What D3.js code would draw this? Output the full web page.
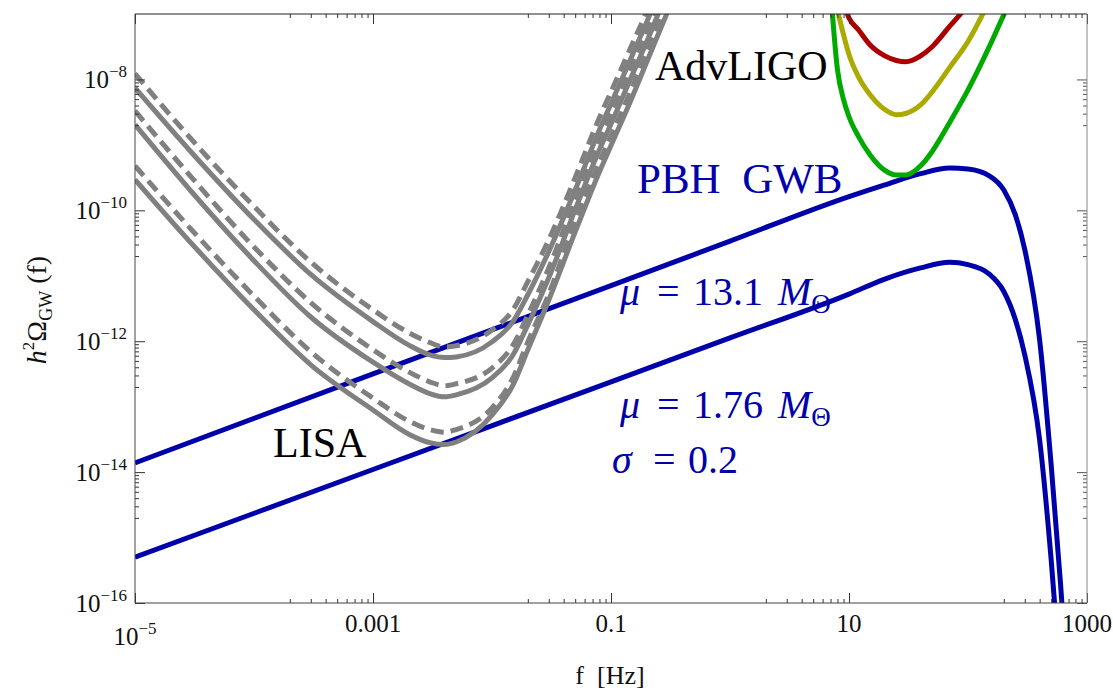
<!DOCTYPE html>
<html>
<head>
<meta charset="utf-8">
<script src="https://cdn.jsdelivr.net/npm/d3@7"></script>
<style>
  body { margin: 0; background: #fff; }
  text { font-family: "Liberation Serif", "Times New Roman", serif; }
</style>
</head>
<body>
<div id="chart"></div>
<script>
// frequencies [Hz] and log10(h^2 Omega)
var freqLisa = [1e-5, 3e-5, 1e-4, 3e-4, 1e-3, 2e-3, 3e-3, 4e-3, 5e-3, 1e-2, 1.5e-2, 2e-2, 3e-2, 5e-2, 8e-2, 0.1, 0.15, 0.2, 0.3];
var lisaA = [-7.91, -8.92, -9.94, -10.79, -11.52, -11.87, -12.02, -12.09, -12.07, -11.83, -11.52, -11.09, -10.45, -9.50, -8.58, -8.19, -7.47, -6.96, -6.17];
var lisaB = [-8.13, -9.12, -10.14, -10.98, -11.70, -12.06, -12.21, -12.25, -12.24, -12.01, -11.70, -11.29, -10.63, -9.69, -8.77, -8.37, -7.64, -7.12, -6.32];
var lisaC = [-8.48, -9.50, -10.56, -11.41, -12.13, -12.47, -12.62, -12.68, -12.65, -12.41, -12.06, -11.60, -10.88, -9.84, -8.92, -8.52, -7.79, -7.27, -6.47];
var lisaD = [-8.69, -9.72, -10.77, -11.63, -12.32, -12.65, -12.80, -12.85, -12.82, -12.56, -12.21, -11.75, -11.03, -9.99, -9.07, -8.68, -7.94, -7.42, -6.63];
var lisaE = [-9.32, -10.30, -11.31, -12.16, -12.87, -13.22, -13.35, -13.39, -13.35, -13.02, -12.56, -12.01, -11.28, -10.17, -9.26, -8.86, -8.13, -7.57, -6.78];
var lisaF = [-9.53, -10.51, -11.52, -12.36, -13.05, -13.42, -13.55, -13.58, -13.54, -13.13, -12.67, -12.13, -11.37, -10.33, -9.41, -9.01, -8.28, -7.73, -6.96];

var freqLigo = [7, 8, 9, 10, 12, 15, 20, 25, 30, 40, 50, 70, 100, 150, 200, 250];
var ligoRed = [-6.0, -6.55, -6.83, -7.06, -7.24, -7.47, -7.64, -7.71, -7.73, -7.64, -7.50, -7.19, -6.86, -6.40, -6.0, -5.7];
var ligoYellow = [-6.32, -6.93, -7.32, -7.62, -7.96, -8.23, -8.46, -8.54, -8.52, -8.39, -8.19, -7.82, -7.42, -6.81, -6.32, -5.9];
var ligoGreen = [-6.63, -7.85, -8.31, -8.57, -8.87, -9.15, -9.39, -9.46, -9.46, -9.32, -9.10, -8.66, -8.16, -7.51, -7.01, -6.63];

var freqPbh = [1e-5, 1e-3, 0.1, 1, 10, 20, 40, 70, 100, 150, 200, 250, 300, 400, 500, 600, 700];
var pbhUpper = [-13.86, -12.50, -11.15, -10.47, -9.79, -9.61, -9.44, -9.355, -9.37, -9.47, -9.69, -10.07, -10.60, -11.98, -13.89, -15.72, -17.48];
var pbhLower = [-15.30, -13.96, -12.62, -11.95, -11.28, -11.05, -10.88, -10.795, -10.83, -10.97, -11.24, -11.67, -12.21, -13.51, -15.34, -17.18, -19.0];

var xMajor = [1e-5, 1e-3, 0.1, 10, 1000];
var xLabels = ["10|-5", "0.001", "0.1", "10", "1000"];
var yMajor = [1e-16, 1e-14, 1e-12, 1e-10, 1e-8];
var yLabels = ["10|-16", "10|-14", "10|-12", "10|-10", "10|-8"];

var W = 1113, H = 692;
var pLeft = 135, pRight = 1087, pTop = 14, pBottom = 603;

var svg = d3.select("#chart").append("svg")
    .attr("width", W).attr("height", H);

svg.append("rect").attr("width", W).attr("height", H).attr("fill", "#fff");

var x = d3.scaleLog().domain([1e-5, 1e3]).range([pLeft, pRight]);
var y = d3.scaleLog().domain([1e-16, 1e-7]).range([pBottom, pTop]);

svg.append("clipPath").attr("id", "plotclip")
  .append("rect")
    .attr("x", pLeft).attr("y", pTop)
    .attr("width", pRight - pLeft).attr("height", pBottom - pTop);

var plot = svg.append("g").attr("clip-path", "url(#plotclip)");

function pts(freqs, logs) {
    return freqs.map(function(f, i) { return [f, Math.pow(10, logs[i])]; });
}

var line = d3.line()
    .x(function(d) { return x(d[0]); })
    .y(function(d) { return y(d[1]); })
    .curve(d3.curveMonotoneX);

// PBH background
[pbhUpper, pbhLower].forEach(function(s) {
    plot.append("path")
        .attr("d", line(pts(freqPbh, s)))
        .attr("fill", "none")
        .attr("stroke", "#0000aa")
        .attr("stroke-width", 5);
});

// LISA sensitivity curves
[[lisaA, true], [lisaB, false], [lisaC, true], [lisaD, false], [lisaE, true], [lisaF, false]].forEach(function(c) {
    plot.append("path")
        .attr("d", line(pts(freqLisa, c[0])))
        .attr("fill", "none")
        .attr("stroke", "#808080")
        .attr("stroke-width", 5)
        .attr("stroke-dasharray", c[1] ? "13,7" : null);
});

// AdvLIGO curves
[[ligoRed, "#aa0000"], [ligoYellow, "#aaaa00"], [ligoGreen, "#00aa00"]].forEach(function(c) {
    plot.append("path")
        .attr("d", line(pts(freqLigo, c[0])))
        .attr("fill", "none")
        .attr("stroke", c[1])
        .attr("stroke-width", 5);
});

// minor ticks: 2..9 x 10^(n-1) under every labelled decade
function minors(majors, lo, hi) {
    var out = [];
    majors.forEach(function(m) {
        for (var k = 2; k <= 9; k++) {
            var v = k * m / 10;
            if (v > lo && v < hi) out.push(v);
        }
    });
    return out;
}
var xMinor = minors(xMajor, 1e-5, 1e3);
var yMinor = minors(yMajor, 1e-16, 1e-7);

function addAxis(axisFn, scale, vals, size, transform, color) {
    var g = svg.append("g")
        .attr("transform", transform)
        .call(axisFn(scale).tickValues(vals).tickSize(size).tickFormat(""));
    g.select(".domain").remove();
    g.selectAll("line").attr("stroke", color).attr("stroke-width", 1);
}
addAxis(d3.axisBottom, x, xMajor, -10, "translate(0," + pBottom + ")", "#333");
addAxis(d3.axisBottom, x, xMinor, -4, "translate(0," + pBottom + ")", "#333");
addAxis(d3.axisTop, x, xMajor, -10, "translate(0," + pTop + ")", "#333");
addAxis(d3.axisTop, x, xMinor, -4, "translate(0," + pTop + ")", "#333");
addAxis(d3.axisLeft, y, yMajor, -10, "translate(" + pLeft + ",0)", "#333");
addAxis(d3.axisLeft, y, yMinor, -4, "translate(" + pLeft + ",0)", "#333");
addAxis(d3.axisRight, y, yMajor, -10, "translate(" + pRight + ",0)", "#555");
addAxis(d3.axisRight, y, yMinor, -4, "translate(" + pRight + ",0)", "#555");

// frame
svg.append("line").attr("x1", pLeft).attr("x2", pRight).attr("y1", pTop).attr("y2", pTop).attr("stroke", "#222");
svg.append("line").attr("x1", pLeft).attr("x2", pRight).attr("y1", pBottom).attr("y2", pBottom).attr("stroke", "#444");
svg.append("line").attr("x1", pLeft).attr("x2", pLeft).attr("y1", pTop).attr("y2", pBottom).attr("stroke", "#444");
svg.append("line").attr("x1", pRight).attr("x2", pRight).attr("y1", pTop).attr("y2", pBottom).attr("stroke", "#888");

// tick labels ("10|-5" means 10 with superscript -5)
function writeLabel(t, s) {
    var p = s.split("|");
    t.append("tspan").text(p[0]);
    if (p[1]) t.append("tspan").attr("font-size", 17).attr("dy", -11).text(p[1].replace("-", "\u2212"));
}
xMajor.forEach(function(v, i) {
    var sup = xLabels[i].indexOf("|") >= 0;
    var t = svg.append("text")
        .attr("x", x(v)).attr("y", sup ? 645 : 632)
        .attr("text-anchor", "middle")
        .attr("font-size", 25).attr("fill", "#111");
    writeLabel(t, xLabels[i]);
});
yMajor.forEach(function(v, i) {
    var t = svg.append("text")
        .attr("x", 127).attr("y", y(v) + 9)
        .attr("text-anchor", "end")
        .attr("font-size", 25).attr("fill", "#111");
    writeLabel(t, yLabels[i]);
});

// axis titles
svg.append("text")
    .attr("x", 610).attr("y", 684)
    .attr("text-anchor", "middle")
    .attr("font-size", 26).attr("fill", "#111")
    .attr("xml:space", "preserve")
    .text("f  [Hz]");

var yt = svg.append("text")
    .attr("transform", "translate(46,310) rotate(-90)")
    .attr("text-anchor", "middle")
    .attr("font-size", 28).attr("fill", "#111");
yt.append("tspan").attr("font-style", "italic").text("h");
yt.append("tspan").attr("font-size", 17).attr("dy", -12).text("2");
yt.append("tspan").attr("dy", 12).text("\u03A9");
yt.append("tspan").attr("font-size", 18).attr("dy", 6).text("GW");
yt.append("tspan").attr("dy", -6).attr("xml:space", "preserve").text(" (f)");

// curve annotations
svg.append("text").attr("x", 655).attr("y", 80).attr("font-size", 42).attr("fill", "#000").text("AdvLIGO");
svg.append("text").attr("x", 273).attr("y", 457).attr("font-size", 42).attr("fill", "#000").text("LISA");
svg.append("text").attr("x", 637).attr("y", 193).attr("font-size", 43).attr("fill", "#0000aa")
    .attr("xml:space", "preserve").text("PBH  GWB");

function massLabel(yb, val) {
    var t = svg.append("text").attr("y", yb).attr("font-size", 40).attr("fill", "#0000aa");
    t.append("tspan").attr("x", 620).attr("font-style", "italic").text("\u03BC");
    t.append("tspan").attr("x", 657).text("=");
    t.append("tspan").attr("x", 693).text(val);
    t.append("tspan").attr("x", 778).attr("font-style", "italic").text("M");
    t.append("tspan").attr("dy", 8).attr("font-size", 27).text("\u0398");
}
massLabel(305, "13.1");
massLabel(418, "1.76");

var sg = svg.append("text").attr("y", 473).attr("font-size", 40).attr("fill", "#0000aa");
sg.append("tspan").attr("x", 612).attr("font-style", "italic").text("\u03C3");
sg.append("tspan").attr("x", 653).text("=");
sg.append("tspan").attr("x", 688).text("0.2");
</script>
</body>
</html>
